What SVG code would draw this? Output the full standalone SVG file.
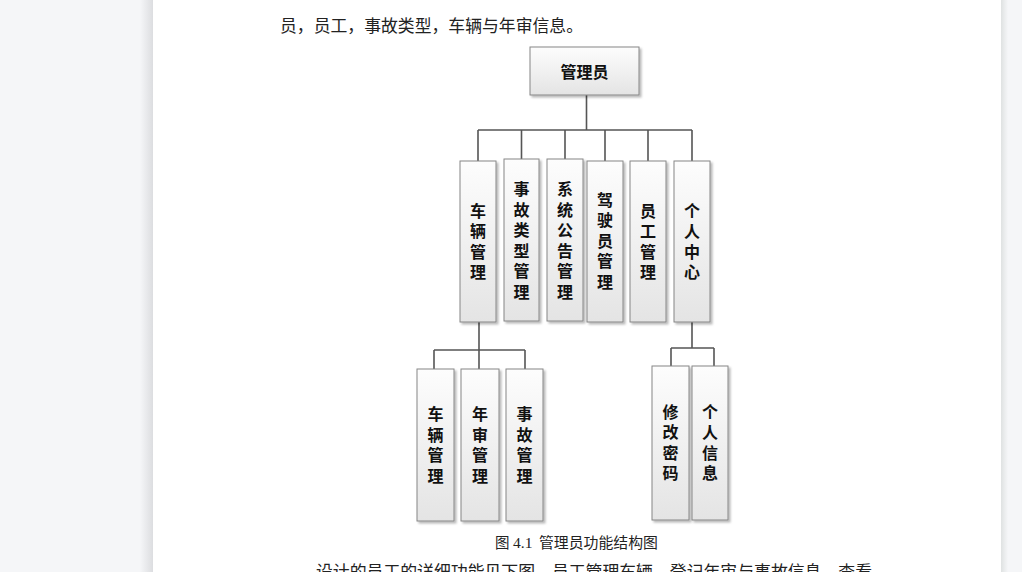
<svg xmlns="http://www.w3.org/2000/svg" width="1022" height="572" viewBox="0 0 1022 572">
<defs>
<linearGradient id="bg" x1="0" y1="0" x2="0" y2="1">
<stop offset="0" stop-color="#fdfdfd"/>
<stop offset="1" stop-color="#e4e4e4"/>
</linearGradient>
<linearGradient id="shL" x1="0" y1="0" x2="1" y2="0">
<stop offset="0" stop-color="#f5f6f8"/>
<stop offset="1" stop-color="#dcdde0"/>
</linearGradient>
<linearGradient id="shR" x1="0" y1="0" x2="1" y2="0">
<stop offset="0" stop-color="#dfe2e2"/>
<stop offset="1" stop-color="#f5f6f8"/>
</linearGradient>
<filter id="ds" x="-20%" y="-20%" width="150%" height="150%">
<feDropShadow dx="2" dy="2" stdDeviation="1.2" flood-color="#000" flood-opacity="0.28"/>
</filter>
</defs>
<style>
.box{fill:url(#bg);stroke:#868686;stroke-width:1;filter:url(#ds)}
.lbl{font-family:"Noto Sans CJK SC","Noto Sans",sans-serif;font-size:16px;font-weight:bold;fill:#111;text-anchor:middle;dominant-baseline:central}
.v{font-family:"Noto Sans CJK SC","Noto Sans",sans-serif;font-size:16px;font-weight:bold;fill:#111;text-anchor:middle;writing-mode:vertical-rl;letter-spacing:4.5px}
.body{font-family:"Noto Sans CJK SC","Noto Sans",sans-serif;font-size:17px;fill:#222}
.cap{font-family:"Noto Sans CJK SC","Noto Sans",sans-serif;font-size:14.5px;fill:#222}
.conn{fill:none;stroke:#555;stroke-width:1.6}
</style>
<rect x="0" y="0" width="1022" height="572" fill="#f5f6f8"/>
<rect x="140" y="0" width="13" height="572" fill="url(#shL)"/>
<rect x="153" y="0" width="848" height="572" fill="#ffffff"/>
<rect x="1001" y="0" width="7" height="572" fill="url(#shR)"/>
<text class="body" x="280" y="32" textLength="303" lengthAdjust="spacingAndGlyphs">员，员工，事故类型，车辆与年审信息。</text>
<g id="connectors">
<path class="conn" d="M586.5 95 V130 M478 130 H692 M478 130 V161 M521.5 130 V159 M565 130 V159 M605 130 V161 M648 130 V161 M692 130 V161"/>
<path class="conn" d="M479 322 V369 M434 350 H525 M434 350 V369 M525 350 V369"/>
<path class="conn" d="M692 322 V348 M671 348 H714 M671 348 V366 M714 348 V366"/>
</g>
<g id="n_admin">
<rect class="box" x="530" y="47" width="109" height="48"/>
<text class="lbl" x="584.5" y="71" font-size="17">管理员</text>
</g>
<g id="n_vehicle">
<rect class="box" x="460" y="161" width="36" height="161"/>
<text class="v" x="478" y="243.5">车辆管理</text>
</g>
<g id="n_accident_type">
<rect class="box" x="504" y="159" width="35" height="162"/>
<text class="v" x="521.5" y="242.5">事故类型管理</text>
</g>
<g id="n_notice">
<rect class="box" x="547" y="159" width="36" height="162"/>
<text class="v" x="565" y="242.5">系统公告管理</text>
</g>
<g id="n_driver">
<rect class="box" x="587" y="161" width="36" height="161"/>
<text class="v" x="605" y="243">驾驶员管理</text>
</g>
<g id="n_staff">
<rect class="box" x="630" y="161" width="36" height="161"/>
<text class="v" x="648" y="243.5">员工管理</text>
</g>
<g id="n_personal">
<rect class="box" x="674" y="161" width="36" height="161"/>
<text class="v" x="692" y="243.5">个人中心</text>
</g>
<g id="n_vehicle_mgmt">
<rect class="box" x="417" y="369" width="37" height="152"/>
<text class="v" x="435.5" y="447">车辆管理</text>
</g>
<g id="n_inspection">
<rect class="box" x="461" y="369" width="38" height="152"/>
<text class="v" x="480" y="447">年审管理</text>
</g>
<g id="n_accident">
<rect class="box" x="506" y="369" width="37" height="152"/>
<text class="v" x="524.5" y="447">事故管理</text>
</g>
<g id="n_password">
<rect class="box" x="652" y="366" width="37" height="154"/>
<text class="v" x="670.5" y="444.5">修改密码</text>
</g>
<g id="n_info">
<rect class="box" x="692" y="366" width="36" height="154"/>
<text class="v" x="710" y="444.5">个人信息</text>
</g>
<text class="cap" y="548"><tspan x="495">图</tspan><tspan x="513" font-family="Liberation Serif,serif" font-size="15.5">4.1</tspan><tspan x="539" textLength="119" lengthAdjust="spacingAndGlyphs">管理员功能结构图</tspan></text>
<text class="body" x="316" y="578" textLength="556" lengthAdjust="spacingAndGlyphs">设计的员工的详细功能见下图，员工管理车辆，登记年审与事故信息，查看</text>
</svg>
